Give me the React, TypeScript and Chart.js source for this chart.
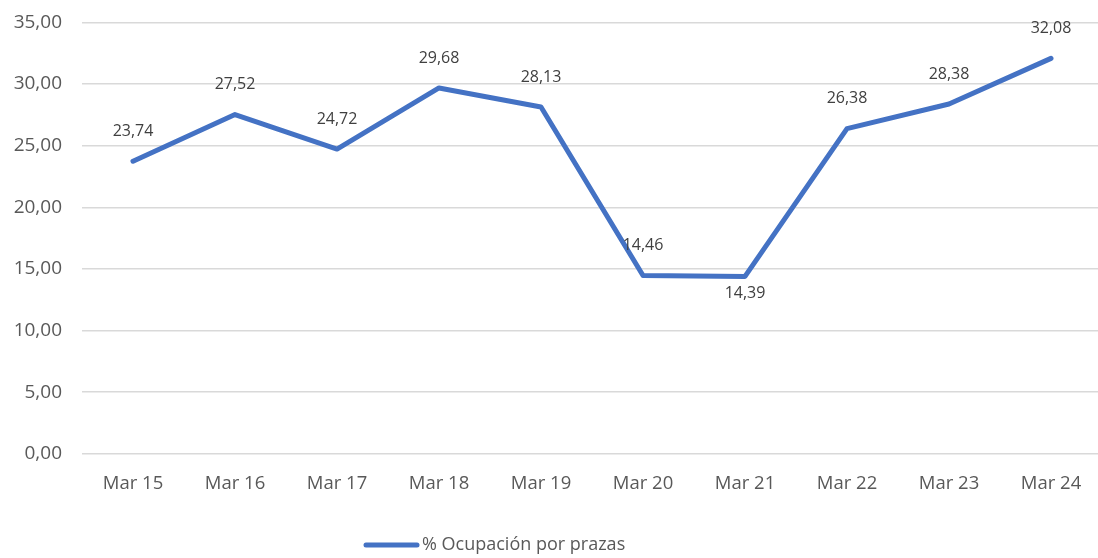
import React, { useEffect, useRef } from "react";
import { Chart, registerables } from "chart.js";

Chart.register(...registerables);

const categories = ["Mar 15", "Mar 16", "Mar 17", "Mar 18", "Mar 19", "Mar 20", "Mar 21", "Mar 22", "Mar 23", "Mar 24"];
const occupancy = [23.74, 27.52, 24.72, 29.68, 28.13, 14.46, 14.39, 26.38, 28.38, 32.08];
const labelBelow = [false, false, false, false, false, false, true, false, false, false];
const seriesName = "% Ocupación por prazas";
const yTicks = [0, 5, 10, 15, 20, 25, 30, 35];

const FONT = "'Open Sans', 'Noto Sans', sans-serif";
const LINE_COLOR = "#4472C4";
const SHIFT = 9;
const fmt = (v: number) => v.toFixed(2).replace(".", ",");

const dataLabelPlugin = {
  id: "dataLabels",
  afterDatasetsDraw(chart: any) {
    const ctx = chart.ctx;
    const meta = chart.getDatasetMeta(0);
    ctx.save();
    ctx.font = `16px ${FONT}`;
    ctx.fillStyle = "#404040";
    ctx.textAlign = "center";
    ctx.textBaseline = "middle";
    meta.data.forEach((pt: any, i: number) => {
      const dy = labelBelow[i] ? 17 : -30;
      ctx.fillText(fmt(occupancy[i]), pt.x, pt.y + dy);
    });
    ctx.restore();
  },
};

const legendPlugin = {
  id: "customLegend",
  afterDraw(chart: any) {
    const ctx = chart.ctx;
    const y = 545 + SHIFT;
    ctx.save();
    ctx.strokeStyle = LINE_COLOR;
    ctx.lineWidth = 5;
    ctx.lineCap = "round";
    ctx.beginPath();
    ctx.moveTo(366, y);
    ctx.lineTo(417, y);
    ctx.stroke();
    ctx.font = `18px ${FONT}`;
    ctx.fillStyle = "#595959";
    ctx.textAlign = "left";
    ctx.textBaseline = "middle";
    ctx.fillText(seriesName, 422, y);
    ctx.restore();
  },
};

export default function App() {
  const ref = useRef<HTMLCanvasElement>(null);
  useEffect(() => {
    document.body.style.overflow = "hidden";
    const chart = new Chart(ref.current!, {
      type: "line",
      data: {
        labels: categories,
        datasets: [
          {
            label: seriesName,
            data: occupancy,
            borderColor: LINE_COLOR,
            backgroundColor: LINE_COLOR,
            borderWidth: 5,
            borderCapStyle: "round",
            borderJoinStyle: "round",
            pointRadius: 0,
            pointHoverRadius: 0,
            tension: 0,
            fill: false,
          },
        ],
      },
      options: {
        responsive: false,
        animation: false,
        maintainAspectRatio: false,
        layout: { padding: { top: 6, right: 2, left: 0, bottom: 44 } },
        plugins: {
          tooltip: { enabled: false },
          legend: { display: false },
        },
        scales: {
          x: {
            offset: true,
            grid: { display: false, drawTicks: false },
            border: { display: false },
            ticks: { color: "#595959", font: { family: FONT, size: 18.5 }, padding: 19, maxRotation: 0 },
          },
          y: {
            min: 0,
            max: 35,
            afterBuildTicks: (s: any) => {
              s.ticks = yTicks.map((v) => ({ value: v }));
            },
            afterFit: (s: any) => {
              s.width = 82;
            },
            grid: { color: "#d9d9d9", lineWidth: 1.5, drawTicks: false },
            border: { display: false },
            ticks: {
              color: "#595959",
              font: { family: FONT, size: 19 },
              padding: 20,
              callback: (v: any) => fmt(Number(v)),
            },
          },
        },
      },
      plugins: [dataLabelPlugin, legendPlugin],
    });
    return () => chart.destroy();
  }, []);
  return (
    <div style={{ position: "fixed", left: 0, top: -SHIFT, width: 1104, height: 558 + SHIFT }}>
      <canvas ref={ref} width={1104} height={558 + SHIFT} style={{ display: "block" }} />
    </div>
  );
}
